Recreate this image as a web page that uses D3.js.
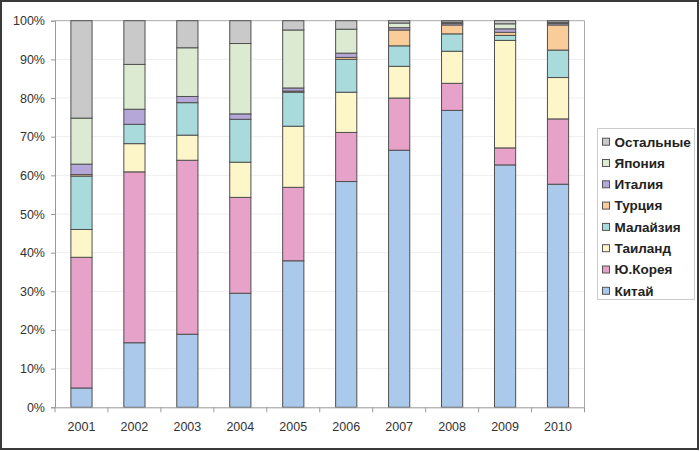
<!DOCTYPE html>
<html><head><meta charset="utf-8">
<script src="https://cdn.jsdelivr.net/npm/d3@7"></script>
<style>body{margin:0;background:#fff}svg{display:block}</style>
</head><body>
<svg id="c" width="700" height="451"></svg>
<script>
const years = ["2001","2002","2003","2004","2005","2006","2007","2008","2009","2010"];
const seriesNames = ["Китай","Ю.Корея","Таиланд","Малайзия","Турция","Италия","Япония","Остальные"];
const china    = [5.0, 16.7, 18.9, 29.5, 37.9, 58.4, 66.5, 76.8, 62.7, 57.7];
const korea    = [33.8, 44.2, 45.0, 24.8, 19.0, 12.7, 13.5, 7.0, 4.4, 16.9];
const thailand = [7.2, 7.3, 6.5, 9.1, 15.8, 10.4, 8.2, 8.3, 27.8, 10.7];
const malaysia = [13.8, 5.0, 8.4, 11.1, 8.8, 8.5, 5.3, 4.5, 1.3, 7.1];
const turkey   = [0.4, 0, 0, 0, 0.3, 0.5, 4.1, 2.3, 0.8, 6.5];
const italy    = [2.7, 3.9, 1.6, 1.4, 0.8, 1.1, 0.6, 0.4, 0.9, 0.4];
const japan    = [11.9, 11.6, 12.6, 18.2, 15.0, 6.2, 1.2, 0.3, 1.3, 0.3];
const others   = [25.2, 11.3, 7.0, 5.9, 2.4, 2.2, 0.6, 0.4, 0.8, 0.4];
const yTicks = [0,10,20,30,40,50,60,70,80,90,100];
const colors = ["#abc9ea","#e6a2c8","#fcf6c8","#a9dbdd","#f9cd99","#b5a7d7","#dbead1","#c9c9c9"];

const seriesVals = [china, korea, thailand, malaysia, turkey, italy, japan, others];
const table = years.map((y,i)=>{const o={year:y}; seriesNames.forEach((s,k)=>o[s]=seriesVals[k][i]); return o;});
const stacked = d3.stack().keys(seriesNames)(table);

const svg = d3.select("#c");
const L=55, R=584.5, T=20.7, B=407.3;
const x = d3.scaleBand().domain(years).range([L,R]).paddingInner(0.6).paddingOuter(0.3);
const y = d3.scaleLinear().domain([0,100]).range([B,T]);

// outer frame
svg.append("rect").attr("x",1).attr("y",1).attr("width",697).attr("height",448)
  .attr("fill","#fff").attr("stroke","#3a3a3a").attr("stroke-width",2);

// grid
svg.append("g").selectAll("line").data(yTicks.slice(1,-1)).join("line")
  .attr("x1",L).attr("x2",R).attr("y1",d=>y(d)).attr("y2",d=>y(d))
  .attr("stroke","#eeeeee").attr("stroke-width",1);

// plot border top/right
svg.append("path").attr("d",`M${L},${T}H${R}V${B}`).attr("fill","none").attr("stroke","#aaaaaa").attr("stroke-width",1);

// bars
svg.append("g").selectAll("g").data(stacked).join("g")
  .attr("fill",(d,i)=>colors[i])
  .selectAll("rect").data(d=>d).join("rect")
  .attr("x",d=>x(d.data.year)).attr("width",x.bandwidth())
  .attr("y",d=>y(d[1])).attr("height",d=>y(d[0])-y(d[1]))
  .attr("stroke","#505050").attr("stroke-width",1);

// y axis
const ya = svg.append("g").attr("transform",`translate(${L},0)`)
  .call(d3.axisLeft(y).tickValues(yTicks).tickFormat(d=>d+"%").tickSize(4).tickPadding(6));
ya.select(".domain").attr("stroke","#999");
ya.selectAll(".tick line").attr("stroke","#999");
ya.selectAll("text").attr("font-family","'Liberation Sans', Arial, sans-serif").attr("font-size","12.5px").attr("fill","#333");

// x axis
const xa = svg.append("g").attr("transform",`translate(0,${B})`)
  .call(d3.axisBottom(x).tickSize(0).tickPadding(15));
xa.select(".domain").attr("stroke","#999");
xa.selectAll("text").attr("font-family","'Liberation Sans', Arial, sans-serif").attr("font-size","12.5px").attr("fill","#333");
const step = x.step();
const bounds = d3.range(years.length+1).map(i=>L+i*step);
xa.append("g").selectAll("line").data(bounds).join("line")
  .attr("x1",d=>d).attr("x2",d=>d).attr("y1",0).attr("y2",5).attr("stroke","#999");

// legend
const lg = svg.append("g");
lg.append("rect").attr("x",597.5).attr("y",128.5).attr("width",97).attr("height",171)
  .attr("fill","#fff").attr("stroke","#cccccc");
const legendOrder = seriesNames.map((s,i)=>({s,c:colors[i]})).reverse();
const li = lg.selectAll("g.it").data(legendOrder).join("g").attr("class","it")
  .attr("transform",(d,i)=>`translate(0,${141.7+i*21.3})`);
li.append("rect").attr("x",602.5).attr("y",-3.5).attr("width",7).attr("height",7)
  .attr("fill",d=>d.c).attr("stroke","#555");
li.append("text").attr("x",614.5).attr("y",0).attr("dy","0.36em")
  .attr("font-family","'Liberation Sans', Arial, sans-serif").attr("font-weight","bold")
  .attr("font-size","13.5px").attr("fill","#222").text(d=>d.s);
</script>
</body></html>
